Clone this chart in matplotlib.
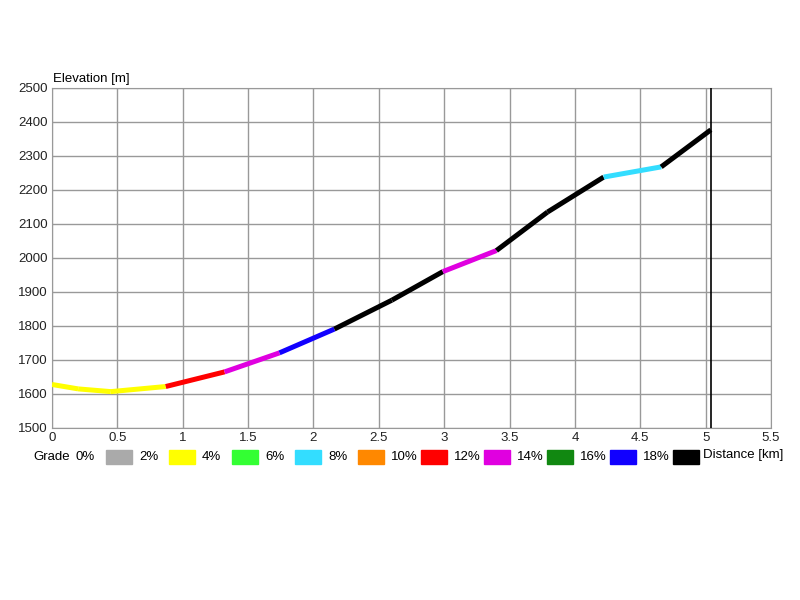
import matplotlib
matplotlib.use("Agg")
import matplotlib.pyplot as plt
from matplotlib.patches import Rectangle

plt.rcParams['font.family'] = ['Liberation Sans', 'DejaVu Sans']

# --- data ---
distance_km = [0, 0.2, 0.45, 0.87, 1.32, 1.74, 2.16, 2.60, 2.99, 3.40, 3.79, 4.22, 4.66, 5.04]
elevation_m = [1628, 1615, 1607, 1622, 1665, 1721, 1791, 1876, 1960, 2022, 2135, 2238, 2268, 2377]
# grade class of every segment (index into grade_colors)
segment_class = [1, 1, 1, 5, 6, 8, 9, 9, 6, 9, 9, 3, 9]

grade_labels = ['0%', '2%', '4%', '6%', '8%', '10%', '12%', '14%', '16%', '18%']
grade_colors = ['#aaaaaa', '#ffff00', '#33ff33', '#33ddff', '#ff8800',
                '#ff0000', '#e000e0', '#118811', '#1100ff', '#000000']

track_end_km = 5.04
x_ticks = [0, 0.5, 1, 1.5, 2, 2.5, 3, 3.5, 4, 4.5, 5, 5.5]
y_ticks = list(range(1500, 2501, 100))

fig = plt.figure(figsize=(8, 6), dpi=100)
ax = fig.add_axes([52 / 800, 1 - 428 / 600, (771 - 52) / 800, (428 - 88) / 600])

for i, c in enumerate(segment_class):
    ax.plot(distance_km[i:i + 2], elevation_m[i:i + 2], color=grade_colors[c],
            lw=3.6, solid_capstyle='butt', solid_joinstyle='miter', zorder=3)

ax.axvline(track_end_km, color='black', lw=1.2, zorder=4)

ax.set_xlim(0, 5.5)
ax.set_ylim(1500, 2500)
ax.set_xticks(x_ticks)
ax.set_xticklabels([f'{t:g}' for t in x_ticks])
ax.set_yticks(y_ticks)
ax.grid(True, color='#999999', lw=1)
ax.tick_params(length=0, labelsize=9.5, pad=3, colors='#222222')
for s in ax.spines.values():
    s.set_color('#999999')

fig.text(53 / 800, 1 - 79 / 600, 'Elevation [m]', fontsize=9.5, va='center', ha='left')

# --- grade legend under the axis ---
ly = 1 - 457 / 600
fig.text(33 / 800, ly, 'Grade', fontsize=9.5, va='center', ha='left')
fig.text(76 / 800, ly, grade_labels[0], fontsize=9.5, va='center', ha='left')
for k in range(1, len(grade_labels) + 1):
    bx = (106 + 63 * (k - 1)) / 800
    fig.patches.append(Rectangle((bx, 1 - 464 / 600), 26 / 800, 14 / 600,
                                 transform=fig.transFigure, color=grade_colors[k - 1]))
    if k < len(grade_labels):
        fig.text(bx + 33 / 800, ly, grade_labels[k], fontsize=9.5, va='center', ha='left')
fig.text(703 / 800, 1 - 455 / 600, 'Distance [km]', fontsize=9.5, va='center', ha='left')

fig.savefig('out.png', dpi=100)
